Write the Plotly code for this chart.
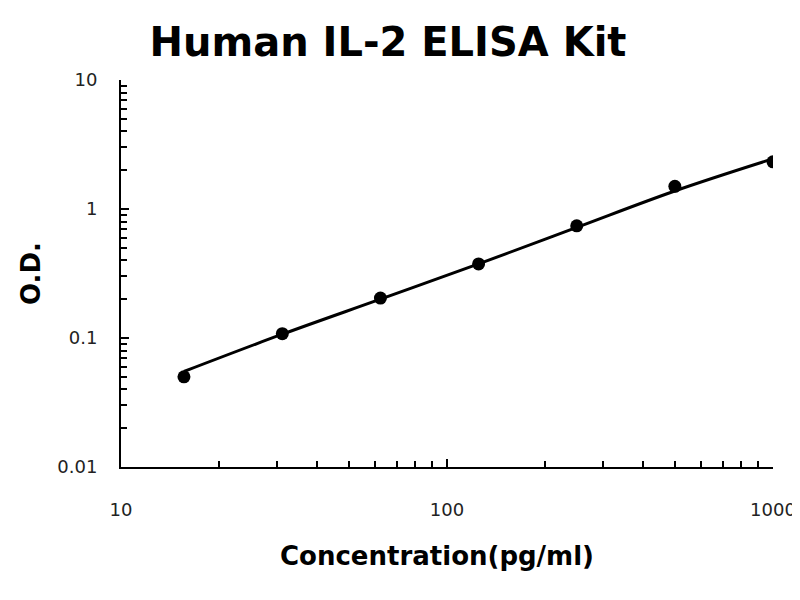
import plotly.graph_objects as go

# standard curve points
conc = [15.6, 31.25, 62.5, 125, 250, 500, 1000]
od = [0.050, 0.108, 0.204, 0.375, 0.74, 1.50, 2.32]

# fitted curve
fit_conc = [15.6, 31.25, 62.5, 125, 250, 500, 1000]
fit_od = [0.055, 0.107, 0.200, 0.375, 0.72, 1.38, 2.45]

font = 'DejaVu Sans, Verdana, sans-serif'

# page body has an 8px margin, so the figure is a bit smaller than the window
W, H = 792, 592

fig = go.Figure()

fig.add_trace(go.Scatter(
    x=fit_conc,
    y=fit_od,
    mode='lines',
    line=dict(color='black', width=3, shape='spline'),
    showlegend=False
))

fig.add_trace(go.Scatter(
    x=conc,
    y=od,
    mode='markers',
    marker=dict(color='black', size=13),
    showlegend=False
))

axis_common = dict(
    type='log',
    automargin=False,
    showgrid=False,
    zeroline=False,
    showline=True,
    linecolor='black',
    linewidth=2,
    ticks='inside',
    ticklen=8,
    tickwidth=2,
    tickcolor='black',
    dtick=1,
    tickfont=dict(family=font, size=18, color='#222222'),
    minor=dict(ticks='inside', ticklen=6, tickwidth=2, tickcolor='black', dtick='D1', showgrid=False),
)

fig.update_layout(
    title=dict(text='<b>Human IL-2 ELISA Kit</b>', x=380 / W, xanchor='center', y=1 - 34 / H, yanchor='middle',
               font=dict(family=font, size=40, color='black')),
    width=W,
    height=H,
    margin=dict(l=113, r=27, t=72, b=133),
    plot_bgcolor='white',
    paper_bgcolor='white',
    xaxis=dict(axis_common, range=[1, 3], ticklabelstandoff=25),
    yaxis=dict(axis_common, range=[-2, 1], ticklabelstandoff=18),
    annotations=[
        dict(text='<b>Concentration(pg/ml)</b>', xref='paper', yref='paper',
             x=(437 - 121) / 652, y=-(556 - 467) / 387, xanchor='center', yanchor='middle',
             showarrow=False, font=dict(family=font, size=26, color='black')),
        dict(text='<b>O.D.</b>', xref='paper', yref='paper', textangle=-90,
             x=-(121 - 31) / 652, y=(467 - 274) / 387, xanchor='center', yanchor='middle',
             showarrow=False, font=dict(family=font, size=26, color='black')),
    ],
)

fig.write_html('out.html')
